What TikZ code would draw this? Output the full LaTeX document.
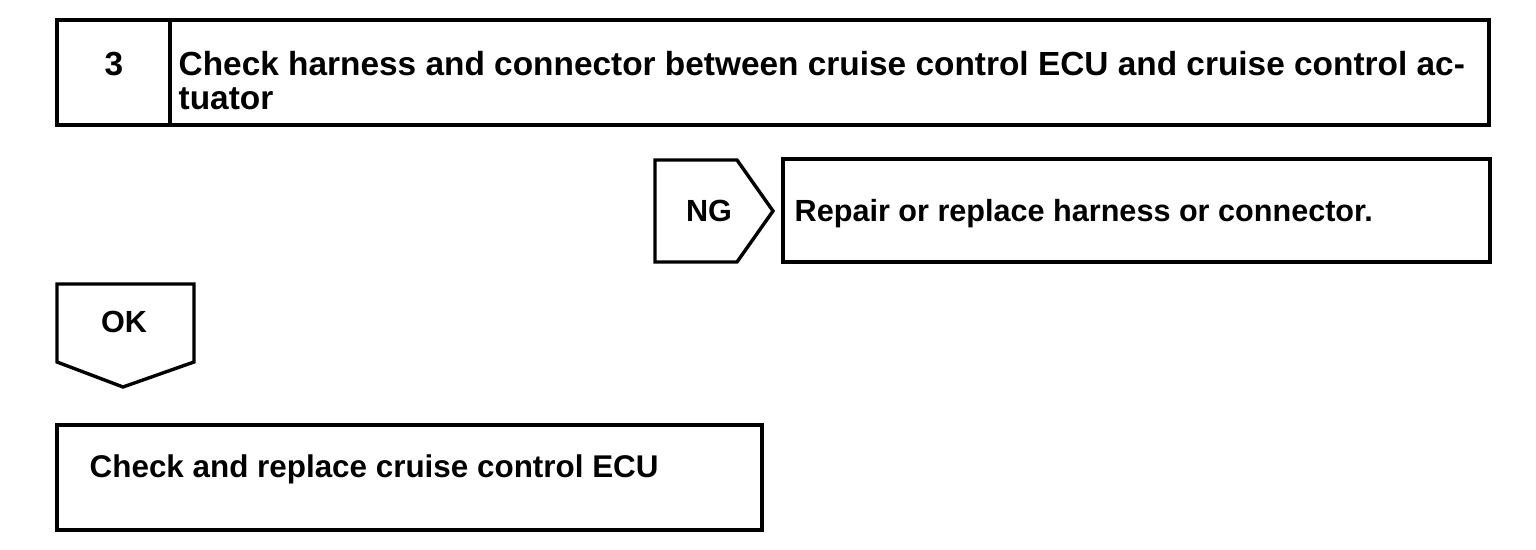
\documentclass[tikz,border=0pt]{standalone}
\usepackage{fontspec}
\setmainfont{Liberation Sans}
\begin{document}
\begin{tikzpicture}[x=0.5pt,y=-0.5pt, line width=1.7pt, line join=miter,
  txt/.style={inner sep=0pt, font=\fontsize{16.7}{17}\selectfont\bfseries},
  stxt/.style={inner sep=0pt, font=\fontsize{15.3}{17}\selectfont\bfseries},
  mtxt/.style={inner sep=0pt, font=\fontsize{15.7}{17}\selectfont\bfseries}]
\useasboundingbox (0,0) rectangle (1536,550);
% step header
\draw (57,20) rectangle (1489,125);
\draw (170,20) -- (170,125);
\node[txt, anchor=base] (num) at (114,76) {3};
\node[txt, anchor=base west] (t1) at (177,76) {Check harness and connector between cruise control ECU and cruise control ac-};
\node[txt, anchor=base west] (t2) at (177,110) {tuator};
% NG branch
\draw (655,160) -- (737,160) -- (773,211) -- (737,262) -- (655,262) -- cycle;
\node[stxt, anchor=base] (ng) at (709,222) {NG};
\draw (783,159) rectangle (1490,262);
\node[stxt, anchor=base west] (rep) at (793,222) {Repair or replace harness or connector.};
% OK branch
\draw (57,284) -- (194,284) -- (194,362) -- (123,387) -- (57,362) -- cycle;
\node[stxt, anchor=base] (ok) at (124,333) {OK};
\draw (57,425) rectangle (762,530);
\node[mtxt, anchor=base west] (ecu) at (88,477) {Check and replace cruise control ECU};
\end{tikzpicture}
\end{document}
